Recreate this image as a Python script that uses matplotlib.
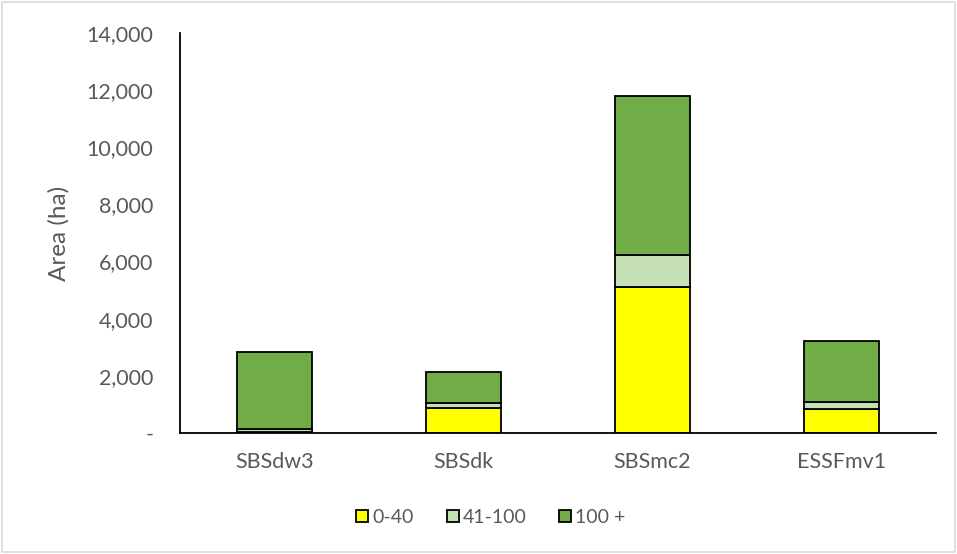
import matplotlib.pyplot as plt
from matplotlib.ticker import FuncFormatter
from matplotlib.patches import Rectangle

# Data (area in ha by age class)
zones = ["SBSdw3", "SBSdk", "SBSmc2", "ESSFmv1"]
age_0_40 = [30, 885, 5120, 830]
age_41_100 = [120, 175, 1110, 265]
age_100_plus = [2685, 1065, 5575, 2125]

labels = ["0-40", "41-100", "100 +"]
colors = ["#ffff00", "#c5e0b4", "#70ad47"]

plt.rcParams['font.family'] = ['Lato', 'DejaVu Sans']

fig = plt.figure(figsize=(9.57, 5.54), dpi=100)
ax = fig.add_axes([0.188, 0.2184, 0.790, 0.722])

x = range(len(zones))
bottom = [0] * len(zones)
for vals, lab, col in zip([age_0_40, age_41_100, age_100_plus], labels, colors):
    ax.bar(x, vals, bottom=bottom, width=0.4, color=col, edgecolor="black",
           linewidth=1.3, label=lab)
    bottom = [b + v for b, v in zip(bottom, vals)]

ax.set_xlim(-0.5, len(zones) - 0.5)
ax.set_ylim(0, 14000)
ax.set_yticks(range(0, 14001, 2000))
ax.yaxis.set_major_formatter(FuncFormatter(lambda v, p: "-" if v == 0 else f"{int(v):,}"))
ax.set_xticks(list(x))
ax.set_xticklabels(zones)
ax.tick_params(axis="both", length=0, labelsize=15.5, labelcolor="#595959")
ax.tick_params(axis="x", pad=14)
ax.tick_params(axis="y", pad=19)

for s in ["top", "right"]:
    ax.spines[s].set_visible(False)
ax.spines["left"].set_linewidth(1.3)
ax.spines["bottom"].set_linewidth(1.3)

ax.set_ylabel("Area (ha)", fontsize=17.5, color="#595959", labelpad=12)

ax.legend(loc="center", bbox_to_anchor=(0.513, 0.0665), bbox_transform=fig.transFigure,
          ncol=3, frameon=False, fontsize=14, labelcolor="#595959",
          handlelength=0.62, handleheight=0.62, handletextpad=0.2, columnspacing=1.7)

# light gray border around the chart
fig.add_artist(Rectangle((0.002, 0.003), 0.996, 0.994, transform=fig.transFigure,
                         fill=False, edgecolor="#d9d9d9", linewidth=1.2))

fig.savefig("out.png", dpi=100)
